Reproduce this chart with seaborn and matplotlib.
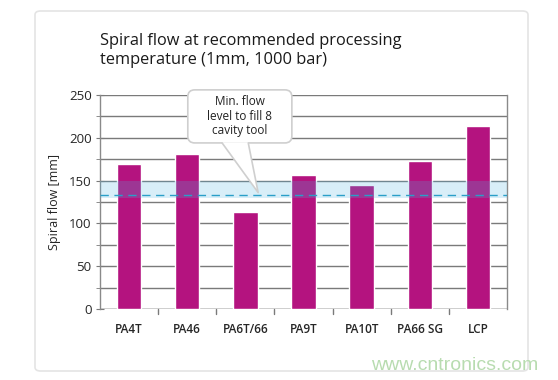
import seaborn as sns
import pandas as pd
from matplotlib import pyplot as plt
from matplotlib.patches import FancyBboxPatch, Polygon
from matplotlib.ticker import MultipleLocator

materials = ['PA4T', 'PA46', 'PA6T/66', 'PA9T', 'PA10T', 'PA66 SG', 'LCP']
spiral_flow = [169, 181, 113, 157, 145, 173, 214]
band_low, band_high = 130, 150
min_flow = 133

df = pd.DataFrame({'material': materials, 'flow': spiral_flow})

sns.set_style('white')
plt.rcParams['font.family'] = ['Open Sans', 'DejaVu Sans']

fig = plt.figure(figsize=(5.58, 3.8), dpi=100)
# card background
card = FancyBboxPatch((35/558, 1-371/380), 493/558, 360/380,
                      boxstyle='round,pad=0,rounding_size=0.01',
                      transform=fig.transFigure, fc='white', ec='#e4e4e4', lw=1.2,
                      zorder=-5)
fig.patches.append(card)

ax = fig.add_axes([100/558, 1-309/380, 407/558, 214/380])
ax.patch.set_alpha(0)
sns.barplot(data=df, x='material', y='flow', color='#b4137f', saturation=1,
            width=0.42, ax=ax, zorder=3)

ax.set_xlim(-0.5, len(materials)-0.5)
ax.set_ylim(0, 250)
ax.yaxis.set_major_locator(MultipleLocator(50))
ax.yaxis.set_minor_locator(MultipleLocator(25))
ax.grid(axis='y', which='both', color='#7a7a7a', lw=1, zorder=1)
ax.set_axisbelow(True)

# band and min flow line
ax.axhspan(band_low, band_high, color='#4fb3e0', alpha=0.22, lw=0, zorder=4)
ax.axhline(min_flow, color='#2a9fc8', lw=1, ls=(0, (6, 4)), zorder=5)

for s in ['top', 'bottom']:
    ax.spines[s].set_visible(False)
for s in ['left', 'right']:
    ax.spines[s].set_color('#8a8a8a')
    ax.spines[s].set_linewidth(1)

ax.tick_params(axis='y', which='both', direction='inout', length=6, color='#7a7a7a',
               labelsize=9.5, pad=3, left=True)
ax.tick_params(axis='x', length=0, labelsize=8.5, pad=10)
for t in ax.get_xticklabels():
    t.set_fontweight('semibold')
# ticks between categories
for k in range(1, len(materials)):
    ax.plot([k-0.5, k-0.5], [0, -6], color='#7a7a7a', lw=1, clip_on=False, zorder=2)
ax.plot([-0.5, 6.5], [0, 0], color='#7a7a7a', lw=1, zorder=2)

ax.set_xlabel('')
ax.set_ylabel('Spiral flow [mm]', fontsize=9, labelpad=6)

# callout
xs = 58.14
ys = 0.856
box = FancyBboxPatch((1.01, 194), 1.79, 62,
                     boxstyle='round,pad=0,rounding_size=0.12',
                     mutation_aspect=xs/ys, fc='white', ec='#cfcfcf', lw=1.2,
                     clip_on=False, zorder=8)
ax.add_patch(box)
tail = Polygon([(1.60, 194.8), (2.22, 136), (2.05, 194.8)], closed=True,
               fc='white', ec='none', zorder=9, clip_on=False)
ax.add_patch(tail)
ax.plot([1.60, 2.22, 2.05], [194, 136, 194], color='#cfcfcf', lw=1.2, zorder=10)
ax.text(1.905, 225, 'Min. flow\nlevel to fill 8\ncavity tool', ha='center', va='center',
        fontsize=8.5, linespacing=1.15, color='#222222', zorder=11)

fig.text(100/558, 1-33/380, 'Spiral flow at recommended processing\ntemperature (1mm, 1000 bar)',
         ha='left', va='top', fontsize=11.8, linespacing=1.25, color='#1a1a1a')

fig.text(538/558, 1-366/380, 'www.cntronics.com', ha='right', va='center',
         fontsize=14, color='#b8dcb0', family=['Liberation Sans', 'DejaVu Sans'])

fig.savefig('out.png', dpi=100)
